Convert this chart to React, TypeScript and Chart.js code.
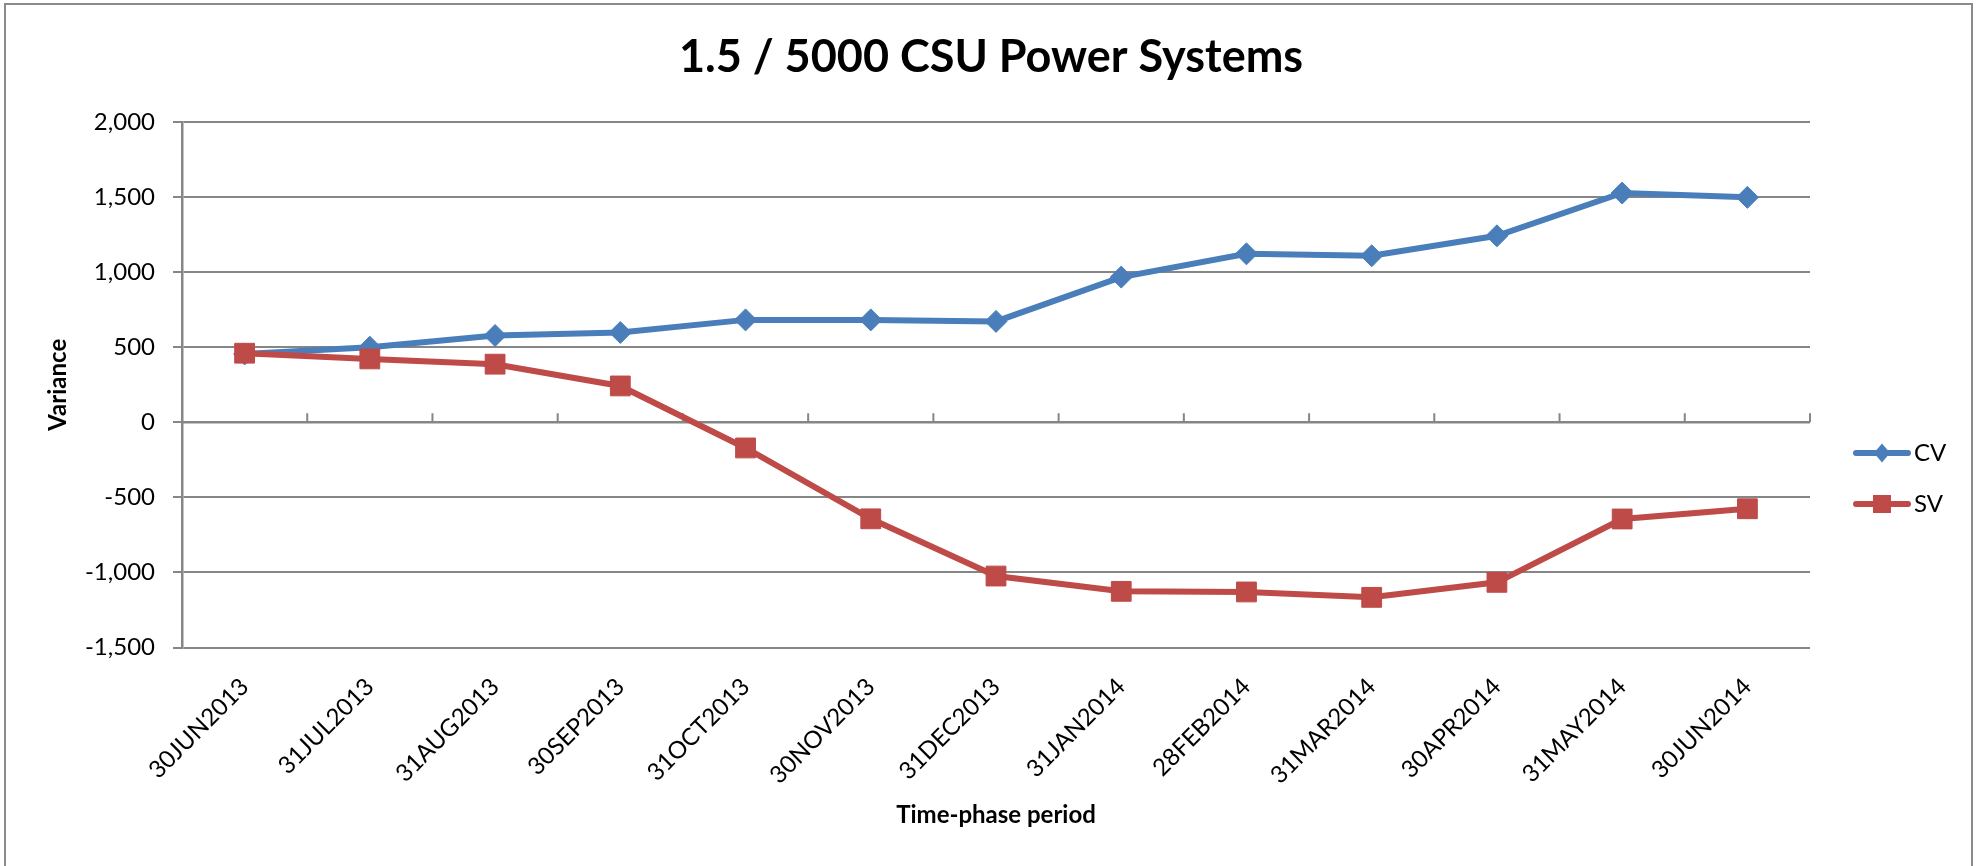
import React, { useEffect, useRef } from 'react';
import { Chart, registerables } from 'chart.js';

Chart.register(...registerables);

// ---- Data ----
const categories = [
  '30JUN2013', '31JUL2013', '31AUG2013', '30SEP2013', '31OCT2013', '30NOV2013',
  '31DEC2013', '31JAN2014', '28FEB2014', '31MAR2014', '30APR2014', '31MAY2014', '30JUN2014',
];
const cvValues = [455, 500, 578, 598, 682, 682, 672, 967, 1122, 1109, 1242, 1527, 1498];
const svValues = [460, 422, 387, 242, -171, -643, -1024, -1126, -1130, -1166, -1066, -644, -576];
const seriesNames = ['CV', 'SV'];
const yMin = -1500;
const yMax = 2000;
const yStep = 500;
const chartTitle = '1.5 / 5000 CSU Power Systems';
const xAxisTitle = 'Time-phase period';
const yAxisTitle = 'Variance';

// ---- Styles ----
const BLUE = '#4A7EBB';
const RED = '#BE4B48';
const GRID = '#868686';
const W = 1982;
const H = 866;

function makeLegendIcon(color: string, kind: 'diamond' | 'square'): HTMLCanvasElement {
  const c = document.createElement('canvas');
  c.width = 60;
  c.height = 24;
  const ctx = c.getContext('2d')!;
  ctx.strokeStyle = color;
  ctx.fillStyle = color;
  ctx.lineWidth = 6;
  ctx.lineCap = 'round';
  ctx.beginPath();
  ctx.moveTo(4, 12);
  ctx.lineTo(56, 12);
  ctx.stroke();
  ctx.beginPath();
  if (kind === 'diamond') {
    ctx.moveTo(30, 2.5);
    ctx.lineTo(38, 12);
    ctx.lineTo(30, 21.5);
    ctx.lineTo(22, 12);
    ctx.closePath();
  } else {
    ctx.rect(21, 3, 18, 18);
  }
  ctx.fill();
  return c;
}

const zeroAxisPlugin = {
  id: 'zeroAxis',
  beforeDatasetsDraw(chart: any) {
    const { ctx, chartArea, scales } = chart;
    const y0 = scales.y.getPixelForValue(0);
    ctx.save();
    ctx.strokeStyle = GRID;
    ctx.lineWidth = 2.5;
    ctx.beginPath();
    ctx.moveTo(chartArea.left, y0);
    ctx.lineTo(chartArea.right, y0);
    ctx.stroke();
    ctx.lineWidth = 2;
    ctx.beginPath();
    for (let i = 0; i <= categories.length; i++) {
      const x = scales.x.getPixelForValue(i - 0.5);
      ctx.moveTo(x, y0);
      ctx.lineTo(x, y0 - 9);
    }
    ctx.stroke();
    ctx.restore();
  },
};

const legendPlacePlugin = {
  id: 'legendPlace',
  afterLayout(chart: any) {
    const lg = chart.legend;
    if (!lg) return;
    const w = lg.width;
    const h = lg.height;
    lg.left = chart.chartArea.right + 25;
    lg.right = lg.left + w;
    lg.top = chart.chartArea.top + 292;
    lg.bottom = lg.top + h;
  },
};

export default function App() {
  const canvasRef = useRef<HTMLCanvasElement | null>(null);

  useEffect(() => {
    if (!canvasRef.current) return;
    Chart.defaults.font.family = 'Lato';
    Chart.defaults.color = '#000';
    const icons = [makeLegendIcon(BLUE, 'diamond'), makeLegendIcon(RED, 'square')];

    const chart = new Chart(canvasRef.current, {
      type: 'line',
      data: {
        labels: categories,
        datasets: [
          {
            label: seriesNames[0],
            data: cvValues,
            borderColor: BLUE,
            backgroundColor: BLUE,
            borderWidth: 6,
            pointStyle: 'rectRot',
            pointRadius: 11,
            pointBackgroundColor: BLUE,
            pointBorderColor: BLUE,
            pointBorderWidth: 1,
            tension: 0,
            order: 1,
          },
          {
            label: seriesNames[1],
            data: svValues,
            borderColor: RED,
            backgroundColor: RED,
            borderWidth: 6,
            pointStyle: 'rect',
            pointRadius: 14,
            pointBackgroundColor: RED,
            pointBorderColor: RED,
            pointBorderWidth: 1,
            tension: 0,
            order: 0,
          },
        ],
      },
      options: {
        responsive: false,
        animation: false,
        events: [],
        layout: { padding: 0 },
        plugins: {
          tooltip: { enabled: false },
          title: {
            display: true,
            text: chartTitle,
            color: '#000',
            font: { size: 45, weight: 'bold' },
            padding: { top: 30, bottom: 38 },
          },
          legend: {
            display: true,
            position: 'chartArea',
            align: 'start',
            labels: {
              usePointStyle: true,
              pointStyleWidth: 40,
              padding: 27,
              color: '#000',
              font: { size: 24 },
              generateLabels: (ch: any) =>
                ch.data.datasets.map((ds: any, i: number) => ({
                  text: ds.label,
                  fillStyle: ds.borderColor,
                  strokeStyle: ds.borderColor,
                  lineWidth: 0,
                  hidden: false,
                  datasetIndex: i,
                  pointStyle: icons[i],
                  fontColor: '#000',
                })),
            },
          },
        },
        scales: {
          x: {
            type: 'category',
            offset: true,
            grid: { display: false, drawTicks: false },
            border: { display: false },
            ticks: {
              autoSkip: false,
              minRotation: 45,
              maxRotation: 45,
              padding: 25,
              color: '#000',
              font: { size: 24 },
            },
            title: {
              display: true,
              text: xAxisTitle,
              color: '#000',
              font: { size: 24, weight: 'bold' },
              padding: { top: 0, bottom: 36 },
            },
            afterFit: (scale: any) => {
              scale.height = 218.5;
            },
          },
          y: {
            min: yMin,
            max: yMax,
            grid: { color: GRID, lineWidth: 2, tickLength: 9, drawTicks: true },
            border: { display: true, color: GRID, width: 2.5 },
            ticks: {
              stepSize: yStep,
              padding: 18,
              color: '#000',
              font: { size: 24 },
            },
            title: {
              display: true,
              text: yAxisTitle,
              color: '#000',
              font: { size: 24, weight: 'bold' },
              padding: { top: 44, bottom: 0 },
            },
            afterFit: (scale: any) => {
              scale.width = 182;
            },
          },
          // empty right-hand space reserved for the legend
          legendSpace: {
            type: 'linear',
            position: 'right',
            display: true,
            grid: { display: false, drawTicks: false },
            border: { display: false },
            ticks: { display: false },
            afterFit: (scale: any) => {
              scale.width = 172;
            },
          },
        },
      },
      plugins: [zeroAxisPlugin, legendPlacePlugin],
    } as any);

    return () => chart.destroy();
  }, []);

  return (
    <div style={{ position: 'absolute', left: 0, top: 0, width: W, height: H, overflow: 'hidden', background: '#fff' }}>
      <div
        style={{
          position: 'absolute',
          left: 4,
          top: 3,
          width: 1969,
          height: 900,
          border: '2px solid #8a8a8a',
          boxSizing: 'border-box',
        }}
      />
      <canvas ref={canvasRef} width={W} height={H} style={{ position: 'absolute', left: 0, top: 0 }} />
    </div>
  );
}
